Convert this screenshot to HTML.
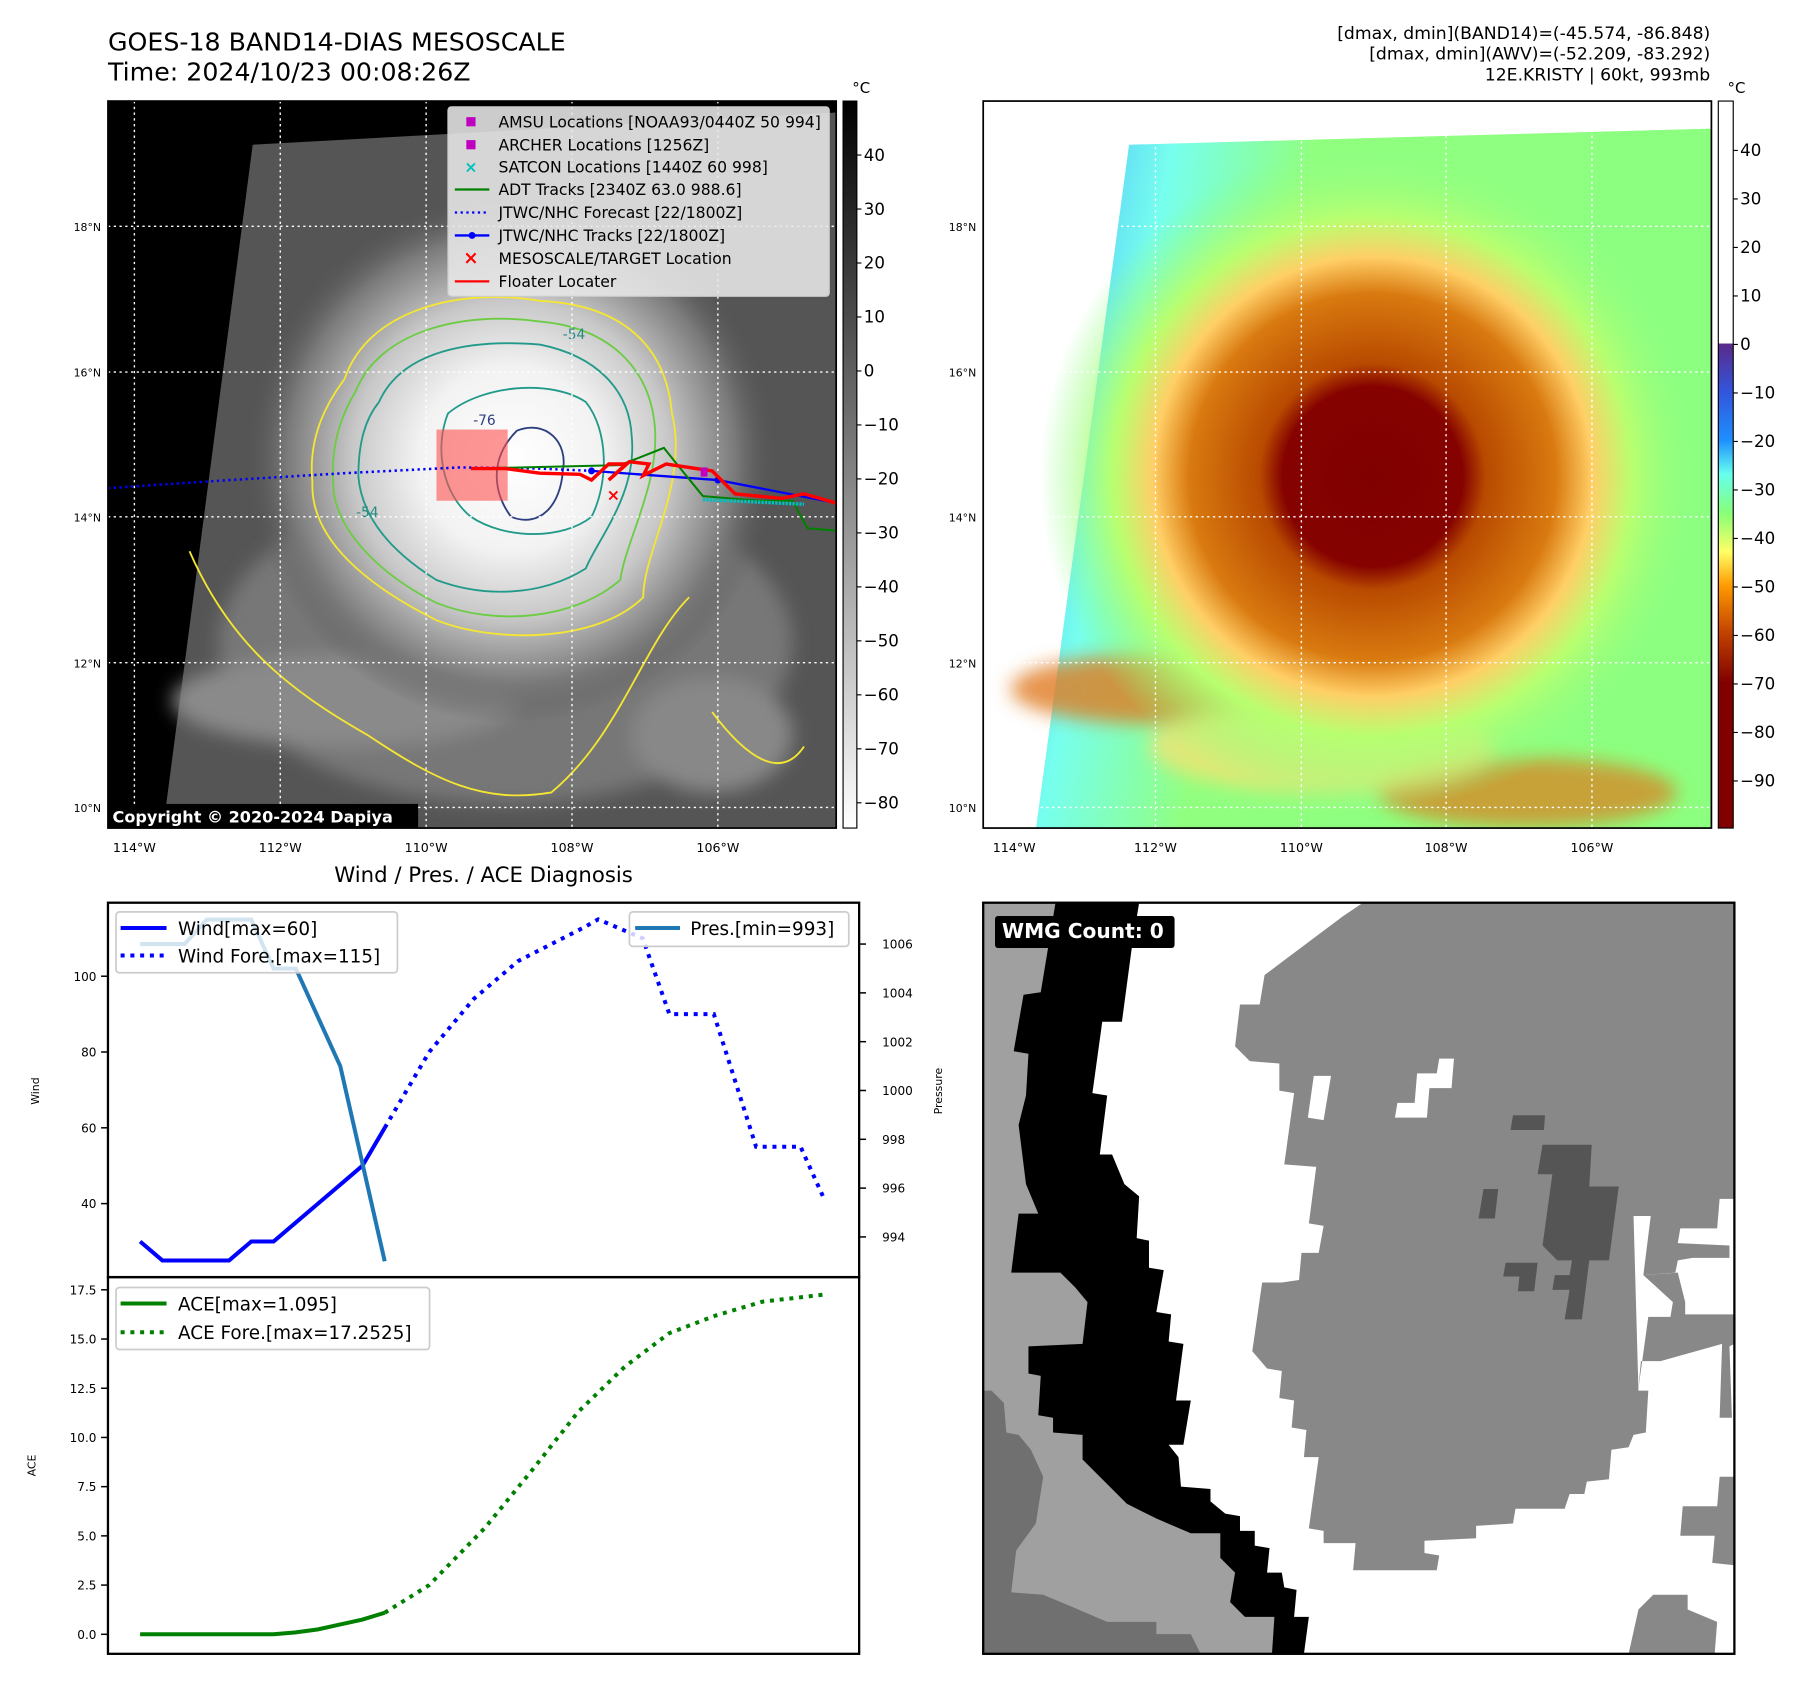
<!DOCTYPE html>
<html><head><meta charset="utf-8"><style>
html,body{margin:0;padding:0;background:#fff;}
svg{display:block;font-family:"DejaVu Sans","Liberation Sans",sans-serif;}
</style></head><body>
<svg id="fig" width="1801" height="1690" viewBox="0 0 1568 1471.5" preserveAspectRatio="none" xmlns="http://www.w3.org/2000/svg">
<defs>
  <radialGradient id="irCore" cx="445" cy="400" r="230" gradientUnits="userSpaceOnUse">
    <stop offset="0" stop-color="#ffffff"/>
    <stop offset="0.35" stop-color="#f2f2f2"/>
    <stop offset="0.6" stop-color="#c8c8c8"/>
    <stop offset="0.85" stop-color="#7a7a7a"/>
    <stop offset="1" stop-color="#5a5a5a" stop-opacity="0"/>
  </radialGradient>
  <radialGradient id="awvCore" cx="1195" cy="415" r="290" gradientUnits="userSpaceOnUse">
    <stop offset="0" stop-color="#800000"/>
    <stop offset="0.27" stop-color="#850200"/>
    <stop offset="0.34" stop-color="#b84a00"/>
    <stop offset="0.55" stop-color="#d97a10"/>
    <stop offset="0.66" stop-color="#ffcf66"/>
    <stop offset="0.78" stop-color="#b8ff70"/>
    <stop offset="1" stop-color="#88ff88" stop-opacity="0"/>
  </radialGradient>
  <linearGradient id="awvBg" x1="0" y1="0" x2="1" y2="0.2">
    <stop offset="0" stop-color="#44aaff"/>
    <stop offset="0.2" stop-color="#77ffee"/>
    <stop offset="0.4" stop-color="#90ff80"/>
    <stop offset="1" stop-color="#8cff80"/>
  </linearGradient>
  <linearGradient id="cbGray" x1="0" y1="0" x2="0" y2="1">
    <stop offset="0" stop-color="#000"/>
    <stop offset="1" stop-color="#fff"/>
  </linearGradient>
  <linearGradient id="cbAwv" x1="0" y1="0" x2="0" y2="1">
    <stop offset="0" stop-color="#fff"/>
    <stop offset="0.333" stop-color="#fff"/>
    <stop offset="0.334" stop-color="#5a2a8a"/>
    <stop offset="0.4" stop-color="#3355dd"/>
    <stop offset="0.467" stop-color="#1e90ff"/>
    <stop offset="0.513" stop-color="#66ffee"/>
    <stop offset="0.567" stop-color="#88ff77"/>
    <stop offset="0.62" stop-color="#ffff66"/>
    <stop offset="0.667" stop-color="#ff9900"/>
    <stop offset="0.733" stop-color="#c04000"/>
    <stop offset="0.8" stop-color="#800000"/>
    <stop offset="1" stop-color="#800000"/>
  </linearGradient>
  <filter id="blur8"><feGaussianBlur stdDeviation="8"/></filter>
  <clipPath id="clipL"><rect x="94" y="88" width="634" height="633"/></clipPath>
  <clipPath id="clipR"><rect x="856" y="88" width="634" height="633"/></clipPath>
</defs>

<text x="94" y="44" font-size="22">GOES-18 BAND14-DIAS MESOSCALE</text>
<text x="94" y="70" font-size="22">Time: 2024/10/23 00:08:26Z</text>
<g font-size="15" text-anchor="end">
  <text x="1489" y="34">[dmax, dmin](BAND14)=(-45.574, -86.848)</text>
  <text x="1489" y="52">[dmax, dmin](AWV)=(-52.209, -83.292)</text>
  <text x="1489" y="70">12E.KRISTY | 60kt, 993mb</text>
</g>

<g clip-path="url(#clipL)">
  <rect x="94" y="88" width="634" height="633" fill="#000"/>
  <polygon points="220,126 728,98 728,721 142,721" fill="#555"/>
  <g filter="url(#blur8)">
    <ellipse cx="440" cy="560" rx="250" ry="140" fill="#777"/>
    <ellipse cx="300" cy="610" rx="150" ry="40" fill="#8a8a8a"/>
    <ellipse cx="620" cy="640" rx="70" ry="50" fill="#888"/>
  </g>
  <circle cx="445" cy="400" r="230" fill="url(#irCore)"/>
  <g fill="none" stroke-width="1.6">
    <path d="M300,330 C320,270 400,250 470,262 C540,265 580,300 585,360 C600,420 560,480 560,520 C520,560 430,560 380,540 C320,510 270,470 272,420 C268,380 285,350 300,330 Z" stroke="#f5e632"/>
    <path d="M165,480 C200,560 250,600 320,640 C380,680 420,700 480,690 C540,640 560,560 600,520 M620,620 C650,660 680,680 700,650" stroke="#f5e632"/>
    <path d="M310,340 C330,290 400,270 470,280 C530,285 565,320 570,370 C575,420 545,470 540,505 C500,540 430,545 380,525 C330,500 290,460 290,420 C288,385 298,360 310,340 Z" stroke="#6ccc44"/>
    <path d="M330,350 C350,305 410,295 470,300 C520,310 548,340 550,380 C555,430 520,470 510,495 C470,520 420,520 380,505 C340,480 315,450 312,415 C312,385 318,365 330,350 Z" stroke="#229a8a"/>
    <path d="M390,360 C420,335 480,330 510,350 C530,375 530,420 515,450 C490,470 440,470 410,450 C385,430 378,390 390,360 Z" stroke="#229a8a"/>
    <path d="M450,375 C475,365 495,385 490,410 C488,440 470,460 445,450 C430,430 425,400 450,375 Z" stroke="#2e3f80"/>
  </g>
  <g font-size="12">
    <text x="412" y="370" fill="#2e3f80">-76</text>
    <text x="490" y="295" fill="#2a8a80">-54</text>
    <text x="310" y="450" fill="#2a8a80">-54</text>
  </g>
  <g stroke="#fff" stroke-width="1.2" stroke-dasharray="2 3">
    <line x1="117" y1="88" x2="117" y2="721"/><line x1="244" y1="88" x2="244" y2="721"/>
    <line x1="371" y1="88" x2="371" y2="721"/><line x1="498" y1="88" x2="498" y2="721"/>
    <line x1="625" y1="88" x2="625" y2="721"/>
    <line x1="94" y1="197" x2="728" y2="197"/><line x1="94" y1="324" x2="728" y2="324"/>
    <line x1="94" y1="450" x2="728" y2="450"/><line x1="94" y1="577" x2="728" y2="577"/>
    <line x1="94" y1="703" x2="728" y2="703"/>
  </g>
  <rect x="380" y="374" width="62" height="62" fill="#ff5050" fill-opacity="0.6"/>
  <polyline points="94,425 200,418 300,412 400,407 470,408 515,410" fill="none" stroke="#0000ff" stroke-width="2.2" stroke-dasharray="2 3"/>
  <polyline points="515,410 625,418 728,438" fill="none" stroke="#0000ff" stroke-width="2"/>
  <circle cx="515" cy="410" r="3" fill="#00f"/><circle cx="625" cy="418" r="3" fill="#00f"/>
  <polyline points="410,408 540,405 578,390 590,405 612,432 660,436 690,436 703,460 728,462" fill="none" stroke="#008000" stroke-width="1.8"/>
  <polyline points="612,435 700,439" stroke="#00c0c0" stroke-width="3" fill="none" stroke-dasharray="2 1"/>
  <polyline points="410,408 440,408 470,412 505,413 515,418 530,404 545,404 530,418 548,402 565,404 560,414 580,404 620,410 640,430 680,434 700,430 728,438" fill="none" stroke="#ff0000" stroke-width="3"/>
  <rect x="610" y="407" width="6" height="8" fill="#c000c0"/>
  <text x="534" y="436" font-size="14" fill="#f00" text-anchor="middle" font-weight="bold">×</text>
  <rect x="94" y="700" width="270" height="21" fill="#000"/>
  <text x="98" y="716" font-size="14" font-weight="bold" fill="#fff">Copyright © 2020-2024 Dapiya</text>
</g>
<rect x="94" y="88" width="634" height="633" fill="none" stroke="#000" stroke-width="1.5"/>
<g font-size="13.6">
  <rect x="390" y="93" width="332" height="165" rx="3" fill="#e8e8e8" fill-opacity="0.88" stroke="#ccc"/>
  <rect x="406" y="102" width="8" height="8" fill="#c000c0"/><text x="434" y="111">AMSU Locations [NOAA93/0440Z 50 994]</text>
  <rect x="406" y="122" width="8" height="8" fill="#c000c0"/><text x="434" y="131">ARCHER Locations [1256Z]</text>
  <text x="410" y="150" fill="#00c0c0" text-anchor="middle" font-weight="bold">×</text><text x="434" y="150">SATCON Locations [1440Z 60 998]</text>
  <line x1="396" y1="165" x2="426" y2="165" stroke="#008000" stroke-width="2"/><text x="434" y="170">ADT Tracks [2340Z 63.0 988.6]</text>
  <line x1="396" y1="185" x2="426" y2="185" stroke="#00f" stroke-width="2" stroke-dasharray="2 3"/><text x="434" y="190">JTWC/NHC Forecast [22/1800Z]</text>
  <line x1="396" y1="205" x2="426" y2="205" stroke="#00f" stroke-width="2"/><circle cx="411" cy="205" r="3" fill="#00f"/><text x="434" y="210">JTWC/NHC Tracks [22/1800Z]</text>
  <text x="410" y="230" fill="#f00" text-anchor="middle" font-weight="bold" font-size="16">×</text><text x="434" y="230">MESOSCALE/TARGET Location</text>
  <line x1="396" y1="245" x2="426" y2="245" stroke="#f00" stroke-width="2"/><text x="434" y="250">Floater Locater</text>
</g>
<rect x="734" y="88" width="12" height="633" fill="url(#cbGray)" stroke="#000" stroke-width="1"/>
<text x="742" y="81" font-size="13">°C</text>
<g id="cbLticks" font-size="14.5"></g>

<g clip-path="url(#clipR)">
  <rect x="856" y="88" width="634" height="633" fill="#fff"/>
  <polygon points="983,126 1490,112 1490,721 902,721" fill="url(#awvBg)"/>
  <g filter="url(#blur8)">
    <ellipse cx="1000" cy="600" rx="120" ry="30" fill="#e07a20" fill-opacity="0.8"/>
    <ellipse cx="1330" cy="690" rx="130" ry="30" fill="#e07a20" fill-opacity="0.7"/>
    <ellipse cx="1150" cy="650" rx="150" ry="40" fill="#ffe070" fill-opacity="0.7"/>
  </g>
  <circle cx="1195" cy="415" r="290" fill="url(#awvCore)"/>
  <g stroke="#fff" stroke-width="1.2" stroke-dasharray="2 3">
    <line x1="1006" y1="88" x2="1006" y2="721"/><line x1="1133" y1="88" x2="1133" y2="721"/>
    <line x1="1259" y1="88" x2="1259" y2="721"/><line x1="1386" y1="88" x2="1386" y2="721"/>
    <line x1="856" y1="197" x2="1490" y2="197"/><line x1="856" y1="324" x2="1490" y2="324"/>
    <line x1="856" y1="450" x2="1490" y2="450"/><line x1="856" y1="577" x2="1490" y2="577"/>
    <line x1="856" y1="703" x2="1490" y2="703"/>
  </g>
</g>
<rect x="856" y="88" width="634" height="633" fill="none" stroke="#000" stroke-width="1.5"/>
<rect x="1496" y="88" width="13" height="633" fill="url(#cbAwv)" stroke="#000" stroke-width="1"/>
<text x="1504" y="81" font-size="13">°C</text>
<g id="cbRticks" font-size="14.5"></g>

<g id="mapTicks" font-size="11"></g>

<text x="421" y="768" font-size="18.5" text-anchor="middle">Wind / Pres. / ACE Diagnosis</text>
<g id="chart"></g>
<rect x="94" y="786" width="654" height="326" fill="none" stroke="#000" stroke-width="2"/>
<rect x="94" y="1112" width="654" height="328" fill="none" stroke="#000" stroke-width="2"/>
<text font-size="9.5" transform="translate(34,950) rotate(-90)" text-anchor="middle">Wind</text>
<text font-size="9.5" transform="translate(820,950) rotate(-90)" text-anchor="middle">Pressure</text>
<text font-size="9.5" transform="translate(31,1276) rotate(-90)" text-anchor="middle">ACE</text>
<g font-size="16">
  <rect x="101" y="794" width="245" height="53" rx="3" fill="#fff" fill-opacity="0.8" stroke="#ccc" stroke-width="1.5"/>
  <line x1="105" y1="808" x2="145" y2="808" stroke="#0000ff" stroke-width="3.5"/><text x="155" y="814">Wind[max=60]</text>
  <line x1="105" y1="832" x2="145" y2="832" stroke="#0000ff" stroke-width="3.5" stroke-dasharray="3.5 5"/><text x="155" y="838">Wind Fore.[max=115]</text>
</g>
<g font-size="16">
  <rect x="548" y="794" width="191" height="30" rx="3" fill="#fff" fill-opacity="0.8" stroke="#ccc" stroke-width="1.5"/>
  <line x1="553" y1="808" x2="592" y2="808" stroke="#1f77b4" stroke-width="3.5"/><text x="601" y="814">Pres.[min=993]</text>
</g>
<g font-size="16">
  <rect x="101" y="1121" width="273" height="54" rx="3" fill="#fff" fill-opacity="0.8" stroke="#ccc" stroke-width="1.5"/>
  <line x1="105" y1="1135" x2="145" y2="1135" stroke="#008000" stroke-width="3.5"/><text x="155" y="1141">ACE[max=1.095]</text>
  <line x1="105" y1="1160" x2="145" y2="1160" stroke="#008000" stroke-width="3.5" stroke-dasharray="3.5 5"/><text x="155" y="1166">ACE Fore.[max=17.2525]</text>
</g>

<svg x="856" y="786" width="654" height="654" viewBox="8 8 1527 1527" preserveAspectRatio="none">
  <rect x="8" y="8" width="1527" height="1527" fill="#fff"/>
  <polygon fill="#888" points="780,8 1535,8 1535,610 1505,610 1500,670 1425,670 1420,700 1525,705 1525,730 1450,730 1420,735 1415,760 1350,765 1365,645 1395,645 1330,645 1340,1000 1360,1000 1355,1085 1330,1090 1320,1115 1285,1120 1280,1180 1235,1185 1230,1210 1200,1210 1190,1240 1090,1240 1085,1270 1010,1275 1010,1300 905,1305 905,1330 935,1335 930,1365 760,1365 765,1310 700,1310 700,1285 670,1280 690,1135 660,1135 665,1080 635,1075 640,1020 610,1015 615,960 585,955 555,920 575,780 615,780 650,775 655,720 690,720 700,665 670,660 685,545 620,540 640,395 610,390 610,335 550,330 520,300 530,215 570,215 580,155 620,125 660,95 700,65 740,35"/>
  <polygon fill="#888" points="1350,765 1420,760 1435,820 1435,845 1535,845 1535,905 1525,910 1530,1055 1505,1055 1510,905 1385,940 1345,940 1340,995 1360,850 1405,850 1410,820"/>
  <polygon fill="#888" points="1320,1535 1340,1445 1370,1415 1440,1415 1440,1445 1500,1470 1495,1535"/>
  <polygon fill="#888" points="1430,1235 1500,1235 1505,1175 1535,1175 1535,1355 1490,1350 1495,1295 1425,1295"/>
  <polygon fill="#fff" points="680,360 715,360 700,450 668,445"/>
  <polygon fill="#fff" points="935,325 965,325 960,385 915,385 910,445 845,445 850,415 885,415 890,355 930,355"/>
  <polygon fill="#555" points="1085,440 1150,440 1148,470 1080,470"/>
  <polygon fill="#555" points="1145,500 1245,500 1240,585 1300,585 1280,735 1240,735 1225,855 1190,855 1200,795 1165,795 1170,765 1200,765 1205,735 1175,735 1145,705 1165,560 1135,560"/>
  <polygon fill="#555" points="1025,590 1055,590 1048,650 1015,650"/>
  <polygon fill="#555" points="1070,740 1135,740 1128,798 1095,798 1098,768 1065,768"/>
  <polygon fill="#000" points="8,8 325,8 310,100 290,250 250,250 230,395 260,400 245,520 270,520 295,580 325,605 320,690 345,695 345,750 375,755 360,840 390,845 385,900 415,905 400,1020 430,1020 415,1110 385,1110 405,1135 410,1195 470,1200 470,1225 500,1250 530,1255 530,1285 560,1285 560,1315 590,1320 585,1370 615,1370 620,1400 645,1405 640,1460 670,1460 660,1535 8,1535"/>
  <polygon fill="#a0a0a0" points="8,8 155,8 125,190 90,195 70,310 100,315 95,400 80,460 95,580 120,640 80,640 65,760 165,760 195,790 220,820 210,905 100,910 100,965 125,970 120,1050 150,1055 150,1085 210,1090 210,1140 240,1170 270,1200 300,1230 360,1260 430,1290 490,1290 490,1340 520,1370 510,1430 540,1460 600,1460 595,1535 8,1535"/>
  <polygon fill="#707070" points="8,1000 25,1000 50,1025 55,1085 80,1090 105,1120 130,1175 115,1270 75,1325 65,1410 130,1415 190,1440 260,1470 360,1470 360,1495 430,1495 450,1535 8,1535"/>
  <rect x="32" y="35" width="365" height="65" rx="6" fill="#000"/>
  <text x="46" y="80" font-size="41" font-weight="bold" fill="#fff">WMG Count: 0</text>
</svg>
<rect x="856" y="786" width="654" height="654" fill="none" stroke="#000" stroke-width="2"/>
</svg>

<script>
const obsTime = [0,1,2,3,4,5,6,7,8,9,10,11];
const windObs = [30,25,25,25,25,30,30,35,40,45,50,60];
const presObs = [1006,1006,1006,1007,1007,1007,1005,1005,1003,1001,997,993];
const aceObs = [0,0,0,0,0,0,0,0.1,0.25,0.5,0.75,1.095];
const foreTime = [11,12,13,14,15,16,17,18,19,20,20.6,22.6,23.8,25.8,27.7,29.7,30.7];
const windFore = [60,70,80,87,94,99,104,107,110,113,115,110,90,90,55,55,42];
const aceTime = [11,13,15.5,17.6,19.7,21.8,23.8,25.9,28,30.7];
const aceFore = [1.095,2.5,5.4,8.3,11.3,13.6,15.3,16.2,16.9,17.25];
const windTicks = [40,60,80,100];
const presTicks = [994,996,998,1000,1002,1004,1006];
const aceTicks = [0,2.5,5,7.5,10,12.5,15,17.5];
const irTicks = [40,30,20,10,0,-10,-20,-30,-40,-50,-60,-70,-80];
const awvTicks = [40,30,20,10,0,-10,-20,-30,-40,-50,-60,-70,-80,-90];
const lonLabels = ["114°W","112°W","110°W","108°W","106°W"];
const latLabels = ["18°N","16°N","14°N","12°N","10°N"];

const NS = "http://www.w3.org/2000/svg";
const xT = t => 122 + 19.36 * t;
const yWind = v => 850 - (v - 100) * 3.3;
const yPres = p => 822 + (1006 - p) * 21.25;
const yAce = a => 1423 - a * 17.14;
const yIr = t => 135 + (40 - t) * 4.7;
const yAwv = t => 131 + (40 - t) * 4.223;

function mk(tag, attrs, parent, txt) {
  const e = document.createElementNS(NS, tag);
  for (const k in attrs) e.setAttribute(k, attrs[k]);
  if (txt !== undefined) e.textContent = txt;
  parent.appendChild(e);
  return e;
}
function pts(xs, ys, fx, fy) { return xs.map((x, i) => fx(x) + "," + fy(ys[i])).join(" "); }

const chart = document.getElementById("chart");
let e;
e = mk("polyline", {points: pts(obsTime, windObs, xT, yWind), fill: "none", stroke: "#0000ff", "stroke-width": 3.5}, chart);


e = mk("polyline", {points: pts(foreTime, windFore, xT, yWind), fill: "none", stroke: "#0000ff", "stroke-width": 3.5, "stroke-dasharray": "3.5 5"}, chart);


e = mk("polyline", {points: pts(obsTime, presObs, xT, yPres), fill: "none", stroke: "#1f77b4", "stroke-width": 3.5}, chart);


e = mk("polyline", {points: pts(obsTime, aceObs, xT, yAce), fill: "none", stroke: "#008000", "stroke-width": 3.5}, chart);


e = mk("polyline", {points: pts(aceTime, aceFore, xT, yAce), fill: "none", stroke: "#008000", "stroke-width": 3.5, "stroke-dasharray": "3.5 5"}, chart);



windTicks.forEach(v => {
  const y = yWind(v);
  mk("line", {x1: 88, x2: 94, y1: y, y2: y, stroke: "#000", "stroke-width": 1.3}, chart);
  const t = mk("text", {x: 84, y: y + 4, "font-size": 10.5, "text-anchor": "end"}, chart, String(v));
  
  
});
presTicks.forEach(v => {
  const y = yPres(v);
  mk("line", {x1: 748, x2: 754, y1: y, y2: y, stroke: "#000", "stroke-width": 1.3}, chart);
  const t = mk("text", {x: 768, y: y + 4, "font-size": 10.5}, chart, String(v));
  
  
});
aceTicks.forEach(v => {
  const y = yAce(v);
  mk("line", {x1: 88, x2: 94, y1: y, y2: y, stroke: "#000", "stroke-width": 1.3}, chart);
  const t = mk("text", {x: 84, y: y + 4, "font-size": 10.5, "text-anchor": "end"}, chart, v.toFixed(1));
  
  
});

const cbL = document.getElementById("cbLticks");
irTicks.forEach(v => {
  const y = yIr(v);
  mk("line", {x1: 746, x2: 750, y1: y, y2: y, stroke: "#000"}, cbL);
  const t = mk("text", {x: 752, y: y + 5}, cbL, v < 0 ? "\u2212" + (-v) : String(v));
  
  
});
const cbR = document.getElementById("cbRticks");
awvTicks.forEach(v => {
  const y = yAwv(v);
  mk("line", {x1: 1509, x2: 1513, y1: y, y2: y, stroke: "#000"}, cbR);
  const t = mk("text", {x: 1515, y: y + 5}, cbR, v < 0 ? "\u2212" + (-v) : String(v));
  
  
});

const mt = document.getElementById("mapTicks");
const lonL = [117,244,371,498,625], lonR = [883,1006,1133,1259,1386], latY = [197,324,450,577,703];
lonLabels.forEach((s, i) => {
  let t = mk("text", {x: lonL[i], y: 742, "text-anchor": "middle"}, mt, s);
  
  
  t = mk("text", {x: lonR[i], y: 742, "text-anchor": "middle"}, mt, s);
  
  
});
latLabels.forEach((s, i) => {
  let t = mk("text", {x: 88, y: latY[i] + 4, "text-anchor": "end", "font-size": 9.5}, mt, s);
  
  
  t = mk("text", {x: 850, y: latY[i] + 4, "text-anchor": "end", "font-size": 9.5}, mt, s);
  
  
});
</script>
</body></html>
